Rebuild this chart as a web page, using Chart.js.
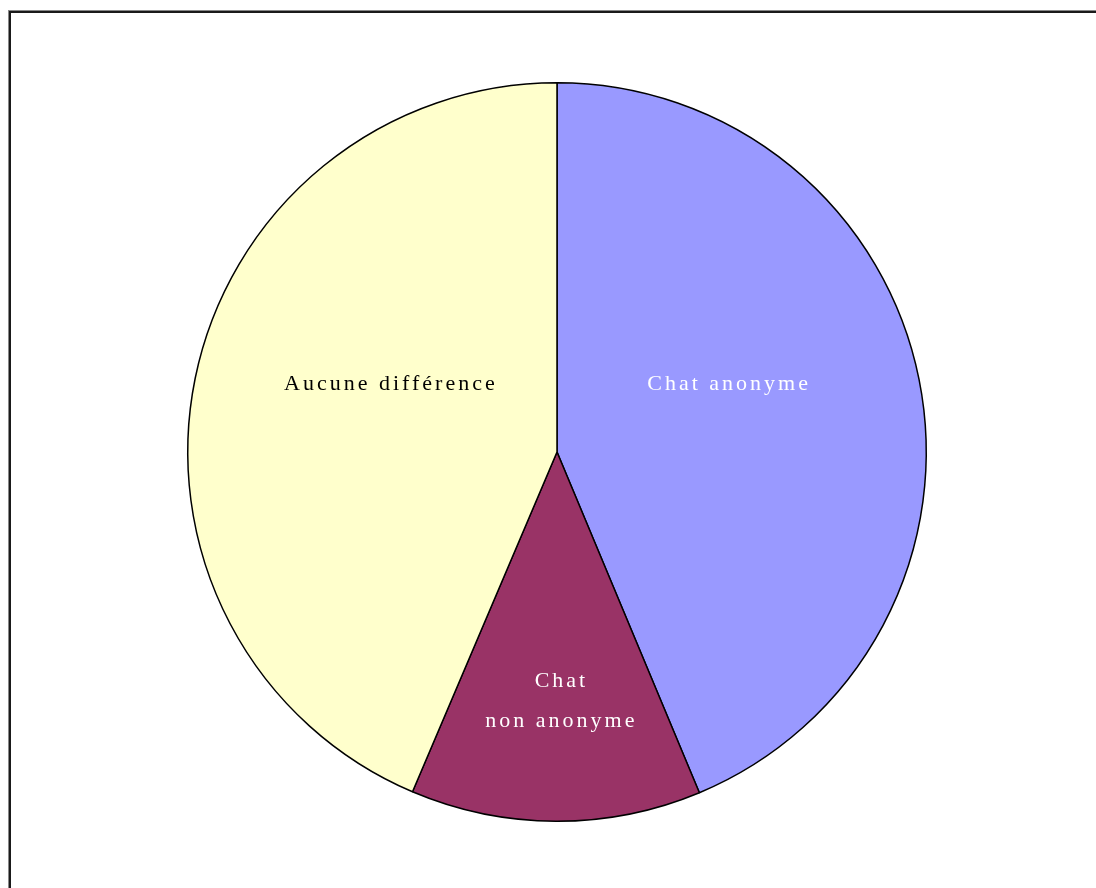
<!DOCTYPE html>
<html><head><meta charset="utf-8">
<script src="https://cdn.jsdelivr.net/npm/chart.js@4/dist/chart.umd.min.js"></script>
<style>
html,body{margin:0;padding:0;background:#fff;overflow:hidden;}
#frame{position:absolute;left:9px;top:11px;width:1200px;height:1000px;border-left:2px solid #1a1a1a;border-top:2px solid #1a1a1a;box-shadow:-1px -1px 0 #888;}
#wrap{position:absolute;left:0;top:0;width:1096px;height:888px;}
</style></head>
<body>
<div id="frame"></div>
<div id="wrap"><canvas id="c" width="1096" height="888"></canvas></div>
<script>
const categories = ["Chat anonyme", "Chat\nnon anonyme", "Aucune différence"];
const values = [43.7, 12.7, 43.6];
const colors = ["#9999FF", "#993366", "#FFFFCC"];
const labelColors = ["#ffffff", "#ffffff", "#000000"];

const labelPlugin = {
  id: 'sliceLabels',
  afterDatasetsDraw(chart, args, opts) {
    const ctx = chart.ctx;
    const meta = chart.getDatasetMeta(0);
    meta.data.forEach((arc, i) => {
      const r = arc.outerRadius;
      const off = opts.offsets[i];
      const x = arc.x + off[0] * r;
      const y = arc.y + off[1] * r;
      const lines = categories[i].split("\n");
      ctx.save();
      ctx.font = opts.font;
      ctx.letterSpacing = opts.spacing;
      ctx.fillStyle = labelColors[i];
      ctx.textAlign = 'center';
      ctx.textBaseline = 'middle';
      const lh = opts.lineHeight;
      lines.forEach((ln, k) => {
        ctx.fillText(ln, x, y + (k - (lines.length - 1) / 2) * lh);
      });
      ctx.restore();
    });
  }
};

new Chart(document.getElementById('c'), {
  type: 'pie',
  data: {
    labels: categories,
    datasets: [{
      data: values,
      backgroundColor: colors,
      borderColor: '#000000',
      borderWidth: 1.5
    }]
  },
  options: {
    responsive: false,
    animation: false,
    layout: { padding: { left: 187, right: 169, top: 82, bottom: 66 } },
    plugins: {
      legend: { display: false },
      tooltip: { enabled: false },
      sliceLabels: {
        font: '22px "Liberation Serif", "DejaVu Serif", serif',
        spacing: '3px',
        lineHeight: 40,
        offsets: [[0.466, -0.184], [0.012, 0.676], [-0.45, -0.184]]
      }
    }
  },
  plugins: [labelPlugin]
});
</script>
</body></html>
